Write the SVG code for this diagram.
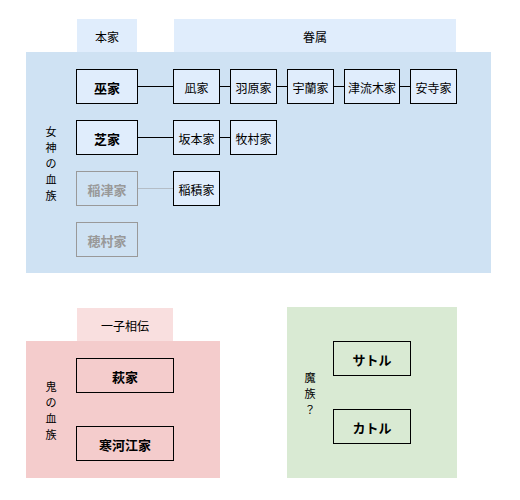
<svg xmlns="http://www.w3.org/2000/svg" width="520" height="500" viewBox="0 0 520 500">
<style>
text{font-family:"Noto Sans CJK JP","Noto Sans CJK SC",sans-serif;font-size:12px;fill:#000;text-anchor:middle;dominant-baseline:central}
.v{font-size:11px}
.box{fill:#e0edfc;stroke:#000;stroke-width:1}
.main{fill:none;stroke:#000;stroke-width:1}
.grey{fill:none;stroke:#999;stroke-width:1}
.b{font-weight:bold;font-size:13px}
.g{fill:#999}
.link{stroke:#000;stroke-width:1;fill:none}
.dot{stroke:#999;stroke-width:1;stroke-dasharray:1,1;fill:none}
</style>
<rect width="520" height="500" fill="#fff"/>
<g id="blue-section">
<rect x="77" y="19" width="60" height="33" fill="#e0edfc"/>
<text x="107" y="36">本家</text>
<rect x="174" y="19" width="282" height="33" fill="#e0edfc"/>
<text x="315" y="36">眷属</text>
<rect x="26" y="52" width="465" height="221" fill="#cfe2f3"/>
<text class="v" x="51" y="131">女</text>
<text class="v" x="51" y="147">神</text>
<text class="v" x="51" y="163">の</text>
<text class="v" x="51" y="179">血</text>
<text class="v" x="51" y="195">族</text>
</g>
<g id="pink-section">
<rect x="77" y="308" width="96" height="33" fill="#f9dfdf"/>
<text x="125" y="325">一子相伝</text>
<rect x="26" y="341" width="194" height="137" fill="#f4cccc"/>
<text class="v" x="51" y="386">鬼</text>
<text class="v" x="51" y="402">の</text>
<text class="v" x="51" y="418">血</text>
<text class="v" x="51" y="434">族</text>
</g>
<g id="green-section">
<rect x="287" y="307" width="170" height="171" fill="#d9ead3"/>
<text class="v" x="310" y="377">魔</text>
<text class="v" x="310" y="393">族</text>
<text class="v" x="310" y="409">？</text>
</g>
<g id="connectors">
<path class="link" d="M137.5 86.5H173.5M219.5 86.5H230.5M276.5 86.5H287.5M333.5 86.5H344.5M399.5 86.5H410.5M137.5 137.5H173.5M219.5 137.5H230.5"/>
<path class="dot" d="M137.5 188.5H173.5"/>
</g>
<g id="miko"><rect class="box" x="76.5" y="69.5" width="61" height="34"/><text class="b" x="107" y="87">巫家</text></g>
<g id="nagi"><rect class="box" x="173.5" y="69.5" width="46" height="34"/><text x="196.5" y="87">凪家</text></g>
<g id="habara"><rect class="box" x="230.5" y="69.5" width="46" height="34"/><text x="253.5" y="87">羽原家</text></g>
<g id="uran"><rect class="box" x="287.5" y="69.5" width="46" height="34"/><text x="310.5" y="87">宇蘭家</text></g>
<g id="tsuruki"><rect class="box" x="344.5" y="69.5" width="55" height="34"/><text x="372" y="87">津流木家</text></g>
<g id="anji"><rect class="box" x="410.5" y="69.5" width="46" height="34"/><text x="433.5" y="87">安寺家</text></g>
<g id="shiba"><rect class="box" x="76.5" y="120.5" width="61" height="34"/><text class="b" x="107" y="138">芝家</text></g>
<g id="sakamoto"><rect class="box" x="173.5" y="120.5" width="46" height="34"/><text x="196.5" y="138">坂本家</text></g>
<g id="makimura"><rect class="box" x="230.5" y="120.5" width="46" height="34"/><text x="253.5" y="138">牧村家</text></g>
<g id="inatsu"><rect class="grey" x="76.5" y="171.5" width="61" height="34"/><text class="b g" x="107" y="189">稲津家</text></g>
<g id="inazumi"><rect class="box" x="173.5" y="171.5" width="46" height="34"/><text x="196.5" y="189">稲積家</text></g>
<g id="homura"><rect class="grey" x="76.5" y="222.5" width="61" height="34"/><text class="b g" x="107" y="240">穂村家</text></g>
<g id="hagi"><rect class="main" x="76.5" y="358.5" width="97" height="34"/><text class="b" x="125" y="376">萩家</text></g>
<g id="sagae"><rect class="main" x="76.5" y="426.5" width="97" height="34"/><text class="b" x="125" y="444">寒河江家</text></g>
<g id="satoru"><rect class="main" x="333.5" y="341.5" width="77" height="34"/><text class="b" x="372" y="359">サトル</text></g>
<g id="katoru"><rect class="main" x="333.5" y="409.5" width="77" height="34"/><text class="b" x="372" y="427">カトル</text></g>
</svg>
